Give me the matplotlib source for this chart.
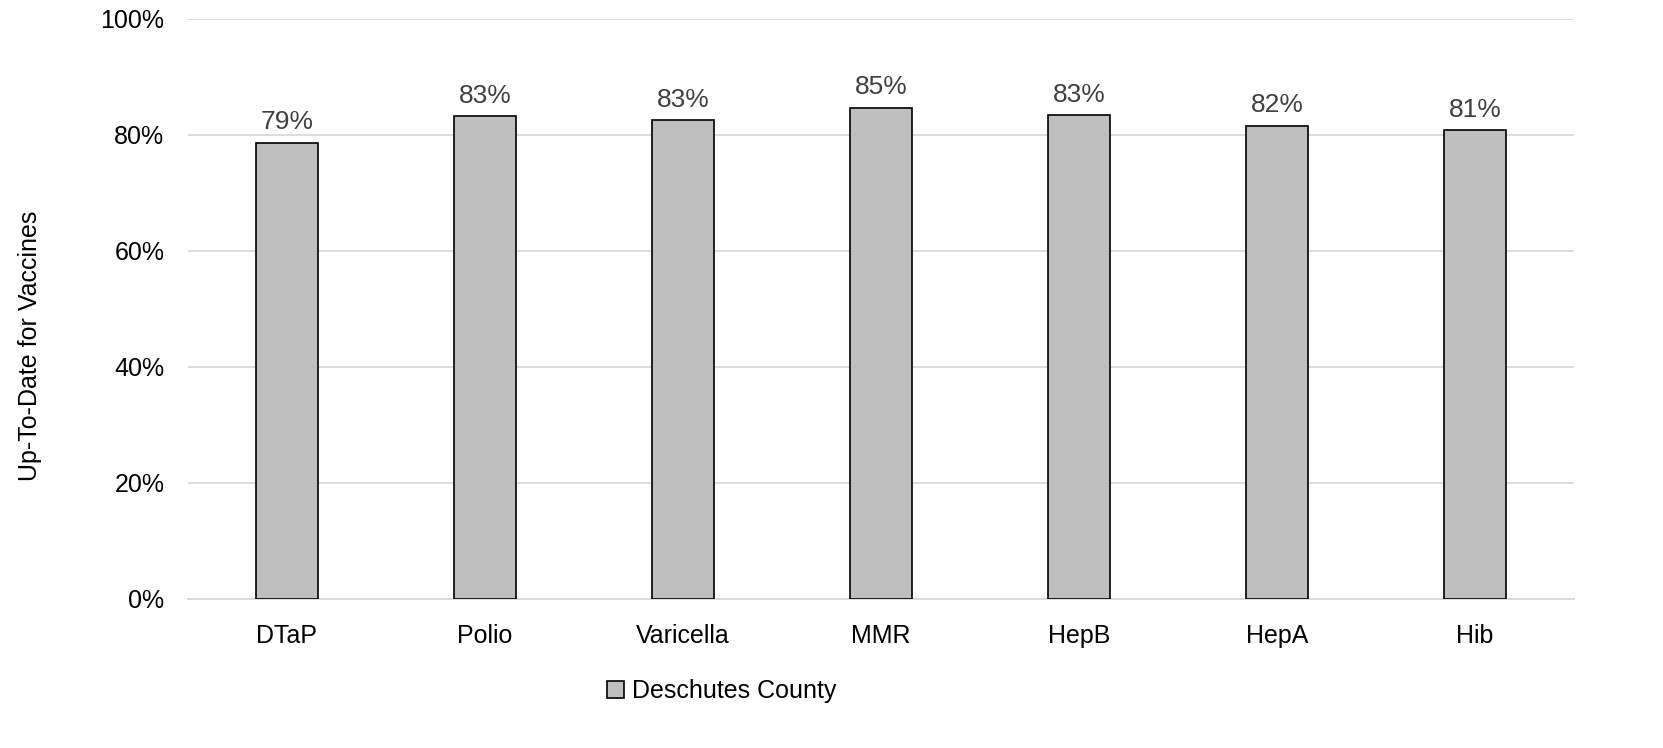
import matplotlib
matplotlib.use('Agg')
import matplotlib.pyplot as plt
from matplotlib.ticker import FuncFormatter

# vaccine coverage, Deschutes County
vaccines = ["DTaP", "Polio", "Varicella", "MMR", "HepB", "HepA", "Hib"]
coverage = [78.7, 83.2, 82.5, 84.7, 83.4, 81.6, 80.8]
labels = ["79%", "83%", "83%", "85%", "83%", "82%", "81%"]

plt.rcParams['font.family'] = ['Liberation Sans', 'DejaVu Sans']

fig = plt.figure(figsize=(16.63, 7.48), dpi=100)
ax = fig.add_axes([0.113, 0.1992, 0.8335, 0.7754])

x = range(len(vaccines))
bars = ax.bar(x, coverage, width=0.315, color="#bfbfbf", edgecolor="black",
              linewidth=1.2, label="Deschutes County", zorder=3)

for b, lab in zip(bars, labels):
    ax.annotate(lab, (b.get_x() + b.get_width() / 2, b.get_height()),
                xytext=(0, 6), textcoords="offset points",
                ha="center", va="bottom", fontsize=19, color="#404040")

ax.set_xlim(-0.5, len(vaccines) - 0.5)
ax.set_ylim(0, 100)
ax.set_yticks(range(0, 101, 20))
ax.yaxis.set_major_formatter(FuncFormatter(lambda v, p: f"{v:.0f}%"))
ax.set_xticks(list(x))
ax.set_xticklabels(vaccines)
ax.tick_params(axis="both", length=0, labelsize=18, colors="black")
ax.tick_params(axis="x", pad=18)
ax.tick_params(axis="y", pad=17)

ax.grid(axis="y", color="#d9d9d9", linewidth=1.3, zorder=0)
for s in ["top", "right", "left"]:
    ax.spines[s].set_visible(False)
ax.spines["bottom"].set_color("#d9d9d9")
ax.spines["bottom"].set_linewidth(1.3)

ax.set_ylabel("Up-To-Date for Vaccines", fontsize=18, va="center")
ax.yaxis.set_label_coords(-0.114, 0.436)

ax.legend(loc="upper center", bbox_to_anchor=(0.385, -0.1), frameon=False,
          fontsize=18, handlelength=0.7, handleheight=0.7, handletextpad=0.3)

plt.savefig("out.png", dpi=100)
